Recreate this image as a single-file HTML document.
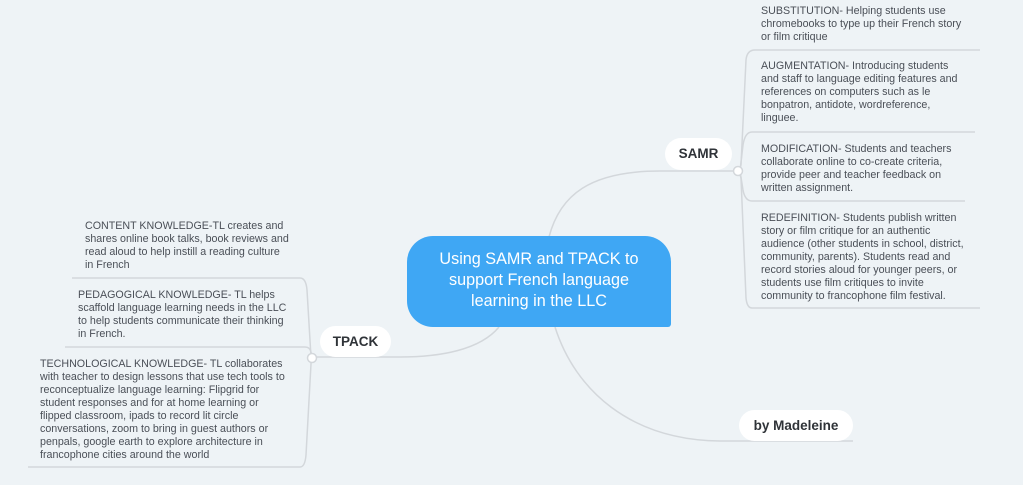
<!DOCTYPE html>
<html><head><meta charset="utf-8"><style>
body{margin:0;width:1023px;height:485px;background:#eef3f6;position:relative;overflow:hidden;font-family:"Liberation Sans",sans-serif;}
.t{position:absolute;font-size:10.7px;line-height:13px;color:#4a4f57;white-space:nowrap;}
.pill{position:absolute;background:#fff;border-radius:16px;font-weight:bold;color:#2f3338;font-size:13.5px;text-align:center;}
#c{position:absolute;left:407px;top:236px;width:264px;height:91px;background:#3fa7f4;border-radius:26px 26px 3px 26px;color:#fff;font-size:16.2px;line-height:21px;text-align:center;box-sizing:border-box;padding-top:13px;}
svg{position:absolute;left:0;top:0}
</style></head><body>
<svg width="1023" height="485" fill="none" stroke="#d3d7db" stroke-width="1.5">
<path d="M738 171 L660 171 C590 171 560 195 549 237"/>
<path d="M499 327 C480 350 440 357 400 357 L312 357"/>
<path d="M555 327 C575 390 630 440 720 441 L853 441"/>
<path d="M980 50 L755 50 Q747 50 746 60 L741 165 Q739 171 738 171"/>
<path d="M975 132 L752 132 Q745 132 743 145 L740 171"/>
<path d="M965 201 L752 201 Q745 201 743 190 L740 171"/>
<path d="M980 308 L752 308 Q747 308 746 298 L741 178 Q739 171 738 171"/>
<path d="M72 278 L300 278 Q306 278 307 290 L311 357"/>
<path d="M65 347 L305 347 Q310 347 311 352 L312 357"/>
<path d="M28 467 L300 467 Q305 467 306 455 L311 364 Q311 358 312 357"/>
<circle cx="738" cy="171" r="4.5" fill="#fff"/>
<circle cx="312" cy="358" r="4.5" fill="#fff"/>
</svg>
<div id="c">Using SAMR and TPACK to<br>support French language<br>learning in the LLC</div>
<div class="pill" style="left:665px;top:138px;width:67px;height:32px;line-height:32px">SAMR</div>
<div class="pill" style="left:320px;top:326px;width:71px;height:31px;line-height:31px">TPACK</div>
<div class="pill" style="left:739px;top:410px;width:114px;height:31px;line-height:31px">by Madeleine</div>
<div class="t" style="left:761px;top:5px">SUBSTITUTION- Helping students use<br>chromebooks to type up their French story<br>or film critique</div>
<div class="t" style="left:761px;top:60px">AUGMENTATION- Introducing students<br>and staff to language editing features and<br>references on computers such as le<br>bonpatron, antidote, wordreference,<br>linguee.</div>
<div class="t" style="left:761px;top:143px">MODIFICATION- Students and teachers<br>collaborate online to co-create criteria,<br>provide peer and teacher feedback on<br>written assignment.</div>
<div class="t" style="left:761px;top:212px">REDEFINITION- Students publish written<br>story or film critique for an authentic<br>audience (other students in school, district,<br>community, parents). Students read and<br>record stories aloud for younger peers, or<br>students use film critiques to invite<br>community to francophone film festival.</div>
<div class="t" style="left:85px;top:220px">CONTENT KNOWLEDGE-TL creates and<br>shares online book talks, book reviews and<br>read aloud to help instill a reading culture<br>in French</div>
<div class="t" style="left:78px;top:289px">PEDAGOGICAL KNOWLEDGE- TL helps<br>scaffold language learning needs in the LLC<br>to help students communicate their thinking<br>in French.</div>
<div class="t" style="left:40px;top:358px">TECHNOLOGICAL KNOWLEDGE- TL collaborates<br>with teacher to design lessons that use tech tools to<br>reconceptualize language learning: Flipgrid for<br>student responses and for at home learning or<br>flipped classroom, ipads to record lit circle<br>conversations, zoom to bring in guest authors or<br>penpals, google earth to explore architecture in<br>francophone cities around the world</div>
</body></html>
